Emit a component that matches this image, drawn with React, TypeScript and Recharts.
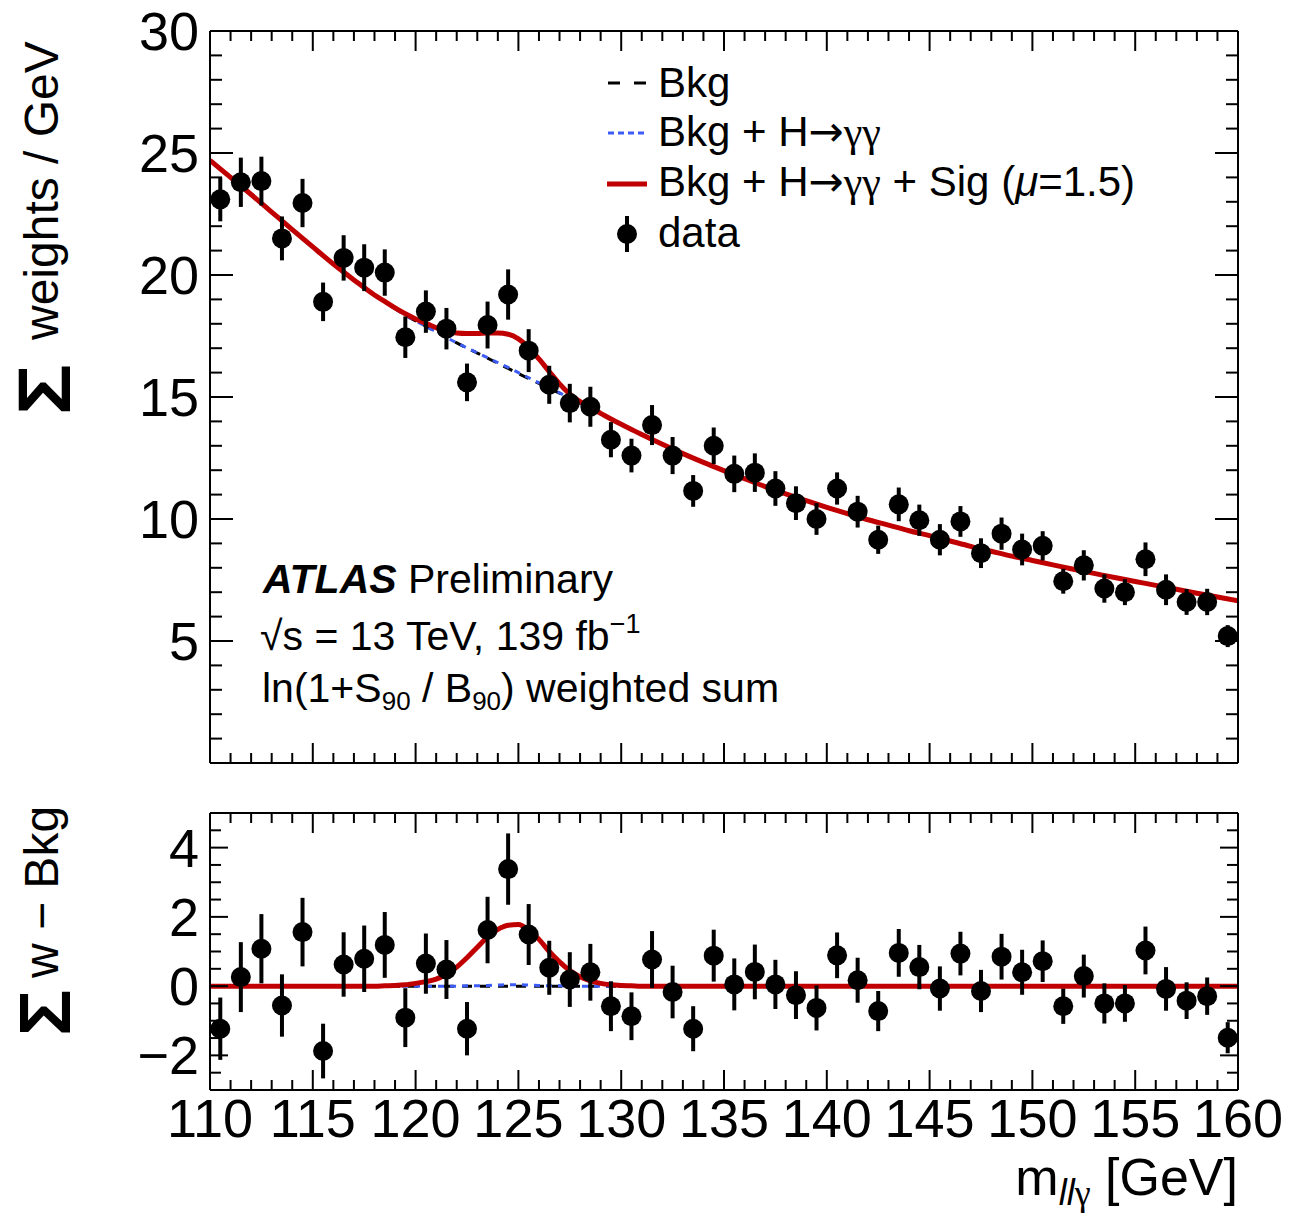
import { ComposedChart, Line, Scatter, ErrorBar, XAxis, YAxis } from 'recharts';

const FONT = '"Liberation Sans", Arial, Helvetica, sans-serif';

// data points (bin centres, GeV)
const binCenters = [
  110.5, 111.5, 112.5, 113.5, 114.5, 115.5, 116.5, 117.5, 118.5, 119.5,
  120.5, 121.5, 122.5, 123.5, 124.5, 125.5, 126.5, 127.5, 128.5, 129.5,
  130.5, 131.5, 132.5, 133.5, 134.5, 135.5, 136.5, 137.5, 138.5, 139.5,
  140.5, 141.5, 142.5, 143.5, 144.5, 145.5, 146.5, 147.5, 148.5, 149.5,
  150.5, 151.5, 152.5, 153.5, 154.5, 155.5, 156.5, 157.5, 158.5, 159.5,
];
const sumWeights = [
  23.1, 23.8, 23.85, 21.5, 22.95, 18.9, 20.7, 20.3, 20.1, 17.45,
  18.5, 17.8, 15.6, 17.95, 19.2, 16.9, 15.5, 14.75, 14.6, 13.25,
  12.6, 13.85, 12.6, 11.15, 13.0, 11.85, 11.9, 11.25, 10.65, 10.0,
  11.25, 10.3, 9.15, 10.6, 9.95, 9.15, 9.9, 8.6, 9.4, 8.75,
  8.9, 7.45, 8.1, 7.15, 7.0, 8.35, 7.1, 6.6, 6.6, 5.2,
];
const statErr = [
  0.9, 1.01, 1.0, 0.9, 0.99, 0.79, 0.93, 0.96, 0.95, 0.85,
  0.87, 0.85, 0.77, 0.96, 1.03, 0.88, 0.78, 0.79, 0.82, 0.72,
  0.69, 0.82, 0.76, 0.65, 0.75, 0.75, 0.79, 0.71, 0.69, 0.65,
  0.66, 0.65, 0.58, 0.69, 0.64, 0.64, 0.63, 0.61, 0.66, 0.65,
  0.6, 0.51, 0.62, 0.58, 0.53, 0.69, 0.63, 0.53, 0.54, 0.45,
];
const residuals = [
  -1.23, 0.26, 1.08, -0.56, 1.56, -1.875, 0.625, 0.79, 1.19, -0.91,
  0.65, 0.48, -1.23, 1.62, 3.38, 1.49, 0.53, 0.19, 0.4, -0.58,
  -0.87, 0.77, -0.17, -1.23, 0.88, 0.05, 0.41, 0.05, -0.26, -0.63,
  0.89, 0.17, -0.72, 0.96, 0.55, -0.07, 0.94, -0.14, 0.85, 0.4,
  0.72, -0.58, 0.29, -0.5, -0.5, 1.03, -0.08, -0.42, -0.29, -1.49,
];

// fitted curves
const curveMass = [
  110, 111, 112, 113, 114, 115, 116, 117, 118,
  118.5, 119, 119.5, 120, 120.5, 121, 121.5, 122, 122.5, 123, 123.5, 124, 124.5,
  125, 125.5, 126, 126.5, 127, 127.5, 128, 128.5, 129, 129.5, 130, 130.5, 131,
  132, 133, 134, 135, 136, 137, 138, 139, 140, 141, 142, 143, 144, 145, 146,
  147, 148, 149, 150, 151, 152, 153, 154, 155, 156, 157, 158, 159, 160,
];
const bkgFit = [
  24.7, 24.0, 23.3, 22.58, 21.86, 21.15, 20.45, 19.8, 19.18,
  18.9, 18.62, 18.36, 18.12, 17.9, 17.67, 17.44, 17.22, 17.0, 16.8, 16.59, 16.38, 16.17,
  15.96, 15.76, 15.56, 15.36, 15.16, 14.95, 14.74, 14.53, 14.32, 14.1, 13.88, 13.67, 13.46,
  13.06, 12.68, 12.32, 11.98, 11.65, 11.33, 11.03, 10.75, 10.48, 10.22, 9.97, 9.75, 9.52, 9.32, 9.1,
  8.88, 8.68, 8.48, 8.3, 8.12, 7.94, 7.77, 7.6, 7.44, 7.28, 7.12, 6.96, 6.8, 6.65,
];
const peakMass = [
  118.5, 119, 119.5, 120, 120.5, 121, 121.5, 122, 122.5, 123, 123.5, 124, 124.5,
  125, 125.5, 126, 126.5, 127, 127.5, 128, 128.5, 129, 129.5, 130, 130.5, 131,
];
const hggBump = [
  0, 0, 0, 0, 0, 0, 0, 0, 0.01, 0.01, 0.02, 0.03, 0.04,
  0.04, 0.03, 0.02, 0.01, 0.01, 0, 0, 0, 0, 0, 0, 0, 0,
];
const sigTop = [
  0.02, 0.03, 0.05, 0.08, 0.12, 0.17, 0.25, 0.4, 0.6, 0.8, 1.03, 1.24, 1.4,
  1.42, 1.27, 1.0, 0.68, 0.38, 0.17, 0.07, 0.03, 0.01, 0, 0, 0, 0,
];
const sigRes = [
  0.01, 0.02, 0.04, 0.08, 0.13, 0.2, 0.35, 0.55, 0.82, 1.12, 1.42, 1.64, 1.76,
  1.78, 1.62, 1.35, 1.0, 0.7, 0.45, 0.27, 0.15, 0.08, 0.04, 0.02, 0.01, 0,
];

const xMajor = [110, 115, 120, 125, 130, 135, 140, 145, 150, 155, 160];
const yTopLabels = [5, 10, 15, 20, 25, 30];
const yResLabels = [-2, 0, 2, 4];

const xTicks = Array.from({ length: 51 }, (_, i) => 110 + i);
const yTopTicks = Array.from({ length: 31 }, (_, i) => i);
const yResTicks = Array.from({ length: 17 }, (_, i) => -3 + i * 0.5);

const points = binCenters.map((m, i) => ({ m, v: sumWeights[i], err: statErr[i] }));
const resPoints = binCenters.map((m, i) => ({ m, v: residuals[i], err: statErr[i] }));
const curves = curveMass.map((m, i) => {
  const k = peakMass.indexOf(m);
  const h = k >= 0 ? hggBump[k] : 0;
  return {
    m,
    bkg: bkgFit[i],
    hgg: bkgFit[i] + h,
    full: bkgFit[i] + (k >= 0 ? sigTop[k] : 0),
    zero: 0,
    hggRes: h,
    sigRes: k >= 0 ? sigRes[k] : 0,
  };
});

const fmt = (v: number) => (v < 0 ? `\u2212${-v}` : `${v}`);

function xTick(side: 'top' | 'bottom', labels: boolean) {
  return (p: any) => {
    const v = p.payload.value;
    const major = xMajor.includes(v);
    const len = major ? 20 : 10;
    const dir = side === 'bottom' ? -1 : 1;
    return (
      <g>
        <line x1={p.x} x2={p.x} y1={p.y} y2={p.y + dir * len} stroke="#000" strokeWidth={2} />
        {labels && major && (
          <text x={p.x} y={p.y + 47} textAnchor="middle" fontSize={54} fontFamily={FONT} fill="#000">
            {v}
          </text>
        )}
      </g>
    );
  };
}

function yTick(side: 'left' | 'right', step: number, labels: number[], majorLen: number, minorLen: number) {
  return (p: any) => {
    const v = p.payload.value;
    const major = Math.abs(v / step - Math.round(v / step)) < 1e-6;
    const len = major ? majorLen : minorLen;
    const dir = side === 'left' ? 1 : -1;
    return (
      <g>
        <line x1={p.x} x2={p.x + dir * len} y1={p.y} y2={p.y} stroke="#000" strokeWidth={2} />
        {side === 'left' && labels.includes(v) && (
          <text x={p.x - 11} y={p.y + 19} textAnchor="end" fontSize={54} fontFamily={FONT} fill="#000">
            {fmt(v)}
          </text>
        )}
      </g>
    );
  };
}

const frame = { stroke: '#000', strokeWidth: 2 };
const dot = (p: any) => <circle cx={p.cx} cy={p.cy} r={10} fill="#000" />;

// axes boxes are 10px deep; the plot frame sits on their inner edges
function Axes({ yTicks, yDomain, step, labels, majorLen, minorLen, xLabels }: any) {
  return [
    <XAxis key="xb" xAxisId="b" type="number" dataKey="m" domain={[110, 160]} ticks={xTicks} interval={0}
      allowDataOverflow height={10} tickSize={0} tickMargin={0} tickLine={false} axisLine={frame}
      tick={xTick('bottom', xLabels)} />,
    <XAxis key="xt" xAxisId="t" orientation="top" type="number" dataKey="m" domain={[110, 160]} ticks={xTicks}
      interval={0} allowDataOverflow height={10} tickSize={0} tickMargin={0} tickLine={false} axisLine={frame}
      tick={xTick('top', false)} />,
    <YAxis key="yl" yAxisId="l" type="number" domain={yDomain} ticks={yTicks} interval={0} allowDataOverflow
      width={10} tickSize={0} tickMargin={0} tickLine={false} axisLine={frame}
      tick={yTick('left', step, labels, majorLen, minorLen)} />,
    <YAxis key="yr" yAxisId="r" orientation="right" type="number" domain={yDomain} ticks={yTicks} interval={0}
      allowDataOverflow width={10} tickSize={0} tickMargin={0} tickLine={false} axisLine={frame}
      tick={yTick('right', step, labels, majorLen, minorLen)} />,
  ];
}

const ARROW = <tspan fontFamily='"DejaVu Sans"'>→</tspan>;
const GG = <tspan fontFamily='"Liberation Serif"'>γγ</tspan>;

export default function App() {
  return (
    <div style={{ position: 'absolute', left: 0, top: 0, width: 1294, height: 1217, background: '#fff' }}>
      <div style={{ position: 'absolute', left: 0, top: 0 }}>
        <ComposedChart width={1294} height={790} data={curves} margin={{ top: 21, right: 46, bottom: 17, left: 200 }}>
          {Axes({ yTicks: yTopTicks, yDomain: [0, 30], step: 5, labels: yTopLabels, majorLen: 23, minorLen: 12, xLabels: false })}
          <Line xAxisId="b" yAxisId="l" dataKey="bkg" type="monotone" stroke="#000" strokeWidth={3}
            strokeDasharray="10 8" dot={false} activeDot={false} isAnimationActive={false} />
          <Line xAxisId="b" yAxisId="l" dataKey="hgg" type="monotone" stroke="#3d5cf5" strokeWidth={3}
            strokeDasharray="6 6" dot={false} activeDot={false} isAnimationActive={false} />
          <Line xAxisId="b" yAxisId="l" dataKey="full" type="monotone" stroke="#c00000" strokeWidth={5}
            dot={false} activeDot={false} isAnimationActive={false} />
          <Scatter xAxisId="b" yAxisId="l" data={points} dataKey="v" shape={dot} isAnimationActive={false}>
            <ErrorBar dataKey="err" direction="y" width={0} stroke="#000" strokeWidth={4} />
          </Scatter>
        </ComposedChart>
      </div>
      <div style={{ position: 'absolute', left: 0, top: 790 }}>
        <ComposedChart width={1294} height={427} data={curves} margin={{ top: 13, right: 46, bottom: 117, left: 200 }}>
          {Axes({ yTicks: yResTicks, yDomain: [-3, 5], step: 2, labels: yResLabels, majorLen: 18, minorLen: 11, xLabels: true })}
          <Line xAxisId="b" yAxisId="l" dataKey="zero" type="monotone" stroke="#000" strokeWidth={3}
            strokeDasharray="10 8" dot={false} activeDot={false} isAnimationActive={false} />
          <Line xAxisId="b" yAxisId="l" dataKey="hggRes" type="monotone" stroke="#3d5cf5" strokeWidth={3}
            strokeDasharray="6 6" dot={false} activeDot={false} isAnimationActive={false} />
          <Line xAxisId="b" yAxisId="l" dataKey="sigRes" type="monotone" stroke="#c00000" strokeWidth={5}
            dot={false} activeDot={false} isAnimationActive={false} />
          <Scatter xAxisId="b" yAxisId="l" data={resPoints} dataKey="v" shape={dot} isAnimationActive={false}>
            <ErrorBar dataKey="err" direction="y" width={0} stroke="#000" strokeWidth={4} />
          </Scatter>
        </ComposedChart>
      </div>
      <svg width={1294} height={1217} style={{ position: 'absolute', left: 0, top: 0, pointerEvents: 'none' }}
        fontFamily={FONT} fill="#000">
        {/* y titles */}
        <text transform="translate(70,415) rotate(-90) scale(1.15,1)" fontSize={74} fontWeight="bold">Σ</text>
        <text transform="translate(58,340) rotate(-90)" fontSize={48}>weights / GeV</text>
        <text transform="translate(70,1036) rotate(-90) scale(1.08,1)" fontSize={72} fontWeight="bold">Σ</text>
        <text transform="translate(58,978) rotate(-90)" fontSize={48}>w − Bkg</text>
        {/* x title */}
        <text x={1238} y={1195} textAnchor="end" fontSize={52}>
          m<tspan fontSize={36} fontStyle="italic" dy={10}>ll</tspan>
          <tspan fontSize={36} fontFamily='"Liberation Serif"'>γ</tspan>
          <tspan dy={-10}> [GeV]</tspan>
        </text>
        {/* legend */}
        <line x1={608} x2={646} y1={83} y2={83} stroke="#000" strokeWidth={3} strokeDasharray="12 14" />
        <text x={658} y={97} fontSize={42}>Bkg</text>
        <line x1={608} x2={646} y1={133} y2={133} stroke="#3d5cf5" strokeWidth={3} strokeDasharray="6 4" />
        <text x={658} y={146} fontSize={42}>
          Bkg + H{ARROW}{GG}
        </text>
        <line x1={607} x2={647} y1={184} y2={184} stroke="#c00000" strokeWidth={5} />
        <text x={658} y={196} fontSize={42}>
          Bkg + H{ARROW}{GG} + Sig (<tspan fontStyle="italic">μ</tspan>=1.5)
        </text>
        <line x1={627} x2={627} y1={216} y2={252} stroke="#000" strokeWidth={4} />
        <circle cx={627} cy={234} r={10} fill="#000" />
        <text x={658} y={247} fontSize={42}>data</text>
        {/* ATLAS label */}
        <text x={263} y={593} fontSize={41}>
          <tspan fontWeight="bold" fontStyle="italic">ATLAS</tspan> Preliminary
        </text>
        <text x={260} y={650} fontSize={41}>
          √s = 13 TeV, 139 fb<tspan fontSize={27} dy={-17}>−1</tspan>
        </text>
        <text x={262} y={702} fontSize={41}>
          ln(1+S<tspan fontSize={26} dy={8}>90</tspan>
          <tspan dy={-8}> / B</tspan>
          <tspan fontSize={26} dy={8}>90</tspan>
          <tspan dy={-8}>) weighted sum</tspan>
        </text>
      </svg>
    </div>
  );
}
